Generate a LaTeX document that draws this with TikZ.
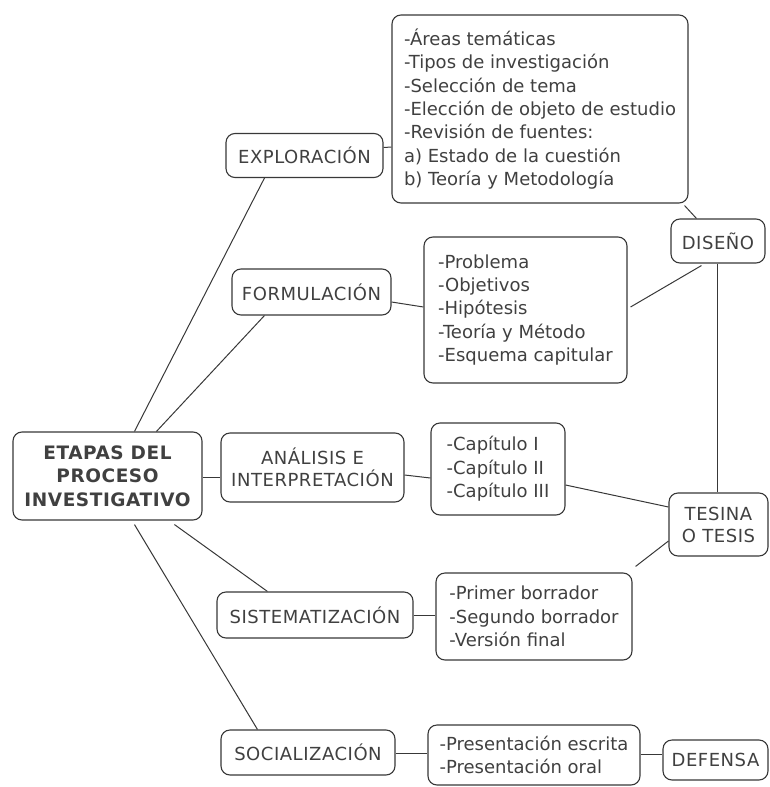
\documentclass[tikz,border=0pt]{standalone}
\usepackage{fontspec}
\setmainfont{DejaVu Sans}
\usetikzlibrary{calc}
\definecolor{linec}{rgb}{0.22,0.22,0.22}
\definecolor{txt}{rgb}{0.25,0.25,0.25}
\tikzset{
  box/.style={draw=linec, rounded corners=9pt, line width=1.1pt, text=txt,
    inner sep=0pt, align=center,
    font=\fontsize{18}{22}\selectfont\addfontfeature{LetterSpace=3}},
  listbox/.style={box, align=left, font=\fontsize{18}{23.4}\selectfont},
  link/.style={draw=linec, line width=1pt}
}
\begin{document}
\begin{tikzpicture}[x=1pt,y=-1pt]
\useasboundingbox (0,0) rectangle (769,787);

% main stage
\node[box, minimum width=189pt, minimum height=88pt,
      font=\bfseries\fontsize{18.5}{23.5}\selectfont\addfontfeature{LetterSpace=3}] (etapas) at (107.5,476)
  {ETAPAS DEL\\PROCESO\\INVESTIGATIVO};

% stages
\node[box, minimum width=157pt, minimum height=44pt] (explo) at (304.5,155.5) {EXPLORACIÓN};
\node[box, minimum width=159pt, minimum height=46pt] (formu) at (311.5,292) {FORMULACIÓN};
\node[box, minimum width=183pt, minimum height=69pt] (anal) at (312.5,467.5) {ANÁLISIS E\\INTERPRETACIÓN};
\node[box, minimum width=196pt, minimum height=46pt] (sist) at (315,615) {SISTEMATIZACIÓN};
\node[box, minimum width=174pt, minimum height=45pt] (soc) at (308,752.5) {SOCIALIZACIÓN};

% contents of each stage
\node[listbox, minimum width=296pt, minimum height=188pt] (exploList) at (540,109)
  {-Áreas temáticas\\-Tipos de investigación\\-Selección de tema\\-Elección de objeto de estudio\\-Revisión de fuentes:\\a) Estado de la cuestión\\b) Teoría y Metodología};
\node[listbox, minimum width=203pt, minimum height=146pt] (formuList) at (525.5,310)
  {-Problema\\-Objetivos\\-Hipótesis\\-Teoría y Método\\-Esquema capitular};
\node[listbox, minimum width=134pt, minimum height=92pt] (analList) at (498,469)
  {-Capítulo I\\-Capítulo II\\-Capítulo III};
\node[listbox, minimum width=196pt, minimum height=87pt] (sistList) at (534,616.5)
  {-Primer borrador\\-Segundo borrador\\-Versión final};
\node[listbox, minimum width=212pt, minimum height=60pt] (socList) at (534,755)
  {-Presentación escrita\\-Presentación oral};

% products
\node[box, minimum width=94pt, minimum height=44pt] (diseno) at (718,241) {DISEÑO};
\node[box, minimum width=99pt, minimum height=63pt] (tesina) at (718.5,524.5) {TESINA\\O TESIS};
\node[box, minimum width=105pt, minimum height=40pt] (defensa) at (715.5,760) {DEFENSA};

% branches from the main stage
\draw[link] ($(etapas.north west)+(122,0)$) -- ($(explo.south west)+(39,0)$);
\draw[link] ($(etapas.north west)+(144,0)$) -- ($(formu.south west)+(33,0)$);
\draw[link] ($(etapas.east)+(0,1)$) -- ($(anal.west)+(0,9.5)$);
\draw[link] ($(etapas.south west)+(162,4)$) -- ($(sist.north west)+(51,0)$);
\draw[link] ($(etapas.south west)+(122,4)$) -- ($(soc.north west)+(37,0)$);

% stage to contents
\draw[link] ($(explo.east)+(0,-8)$) -- ($(exploList.west)+(0,38)$);
\draw[link] ($(formu.east)+(0,10)$) -- ($(formuList.west)+(0,-3)$);
\draw[link] ($(anal.east)+(0,7.5)$) -- ($(analList.west)+(0,9)$);
\draw[link] (sist.east) -- ($(sistList.west)+(0,-1.5)$);
\draw[link] ($(soc.east)+(0,1)$) -- ($(socList.west)+(0,-1.5)$);

% contents to products
\draw[link] ($(exploList.south east)+(-4,2)$) -- ($(diseno.north west)+(26,0)$);
\draw[link] ($(formuList.east)+(3,-3)$) -- ($(diseno.south west)+(31,2)$);
\draw[link] ($(analList.east)+(0,16)$) -- ($(tesina.west)+(0,-17.5)$);
\draw[link] ($(sistList.north east)+(3,-6)$) -- ($(tesina.west)+(0,16.5)$);
\draw[link] ($(socList.east)+(0,-1)$) -- ($(defensa.west)+(0,-6)$);

% spine of products
\draw[link] ($(diseno.south)+(-1,0)$) -- ($(tesina.north)+(-1.5,0)$);
\draw[link] ($(tesina.south)+(-1.5,0)$) -- ($(tesina.south)+(-1.5,0)$ |- defensa.north);
\end{tikzpicture}
\end{document}
